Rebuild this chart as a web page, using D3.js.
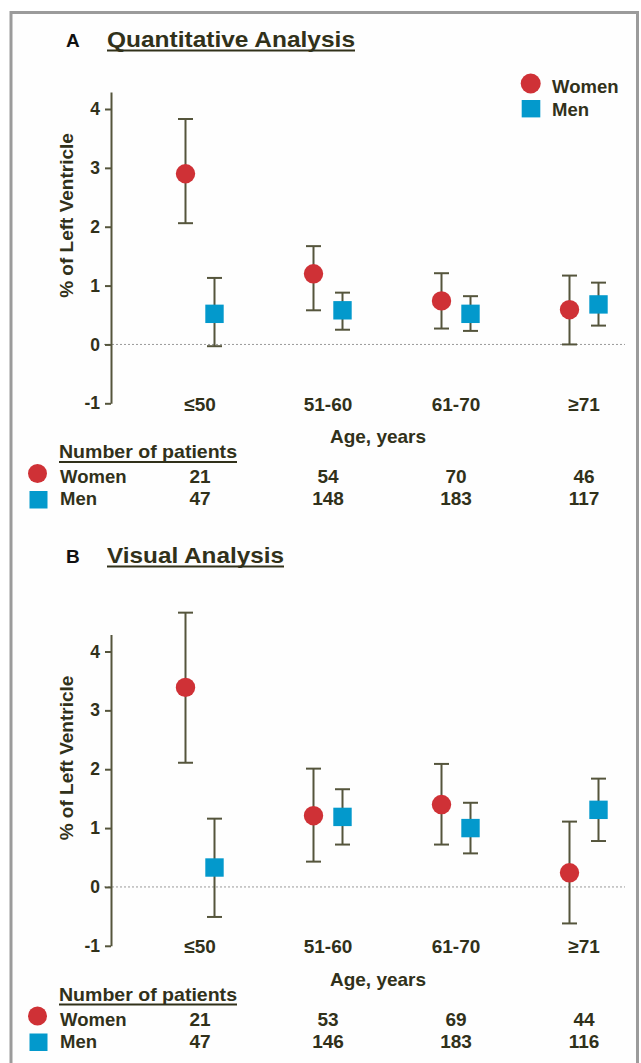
<!DOCTYPE html>
<html>
<head>
<meta charset="utf-8">
<script src="https://cdn.jsdelivr.net/npm/d3@7/dist/d3.min.js"></script>
<style>
  html, body { margin: 0; padding: 0; background: #ffffff; }
  svg { display: block; }
  text { font-family: "Liberation Sans", Arial, sans-serif; font-weight: bold; }
</style>
</head>
<body>
<svg id="chart" width="641" height="1063"></svg>
<script>
// ---------- DATA ----------
const categories = ["≤50", "51-60", "61-70", "≥71"];
const yTicks = [-1, 0, 1, 2, 3, 4];

// Panel A: Quantitative Analysis
const quantWomenMean = [2.90, 1.20, 0.74, 0.59];
const quantWomenLow  = [2.06, 0.58, 0.27, 0.00];
const quantWomenHigh = [3.83, 1.67, 1.21, 1.17];
const quantMenMean   = [0.52, 0.58, 0.52, 0.68];
const quantMenLow    = [-0.03, 0.25, 0.23, 0.32];
const quantMenHigh   = [1.13, 0.88, 0.82, 1.05];
const quantWomenN    = [21, 54, 70, 46];
const quantMenN      = [47, 148, 183, 117];

// Panel B: Visual Analysis
const visWomenMean = [3.39, 1.21, 1.40, 0.24];
const visWomenLow  = [2.11, 0.43, 0.72, -0.62];
const visWomenHigh = [4.66, 2.01, 2.09, 1.11];
const visMenMean   = [0.33, 1.19, 1.00, 1.31];
const visMenLow    = [-0.51, 0.72, 0.57, 0.78];
const visMenHigh   = [1.16, 1.66, 1.43, 1.84];
const visWomenN    = [21, 53, 69, 44];
const visMenN      = [47, 146, 183, 116];

// ---------- STYLE ----------
const TEXT = "#31311a";
const AXIS = "#55553c";
const RED = "#cf3136";
const BLUE = "#0399cc";

const svg = d3.select("#chart");

// frame
svg.append("rect")
  .attr("x", 11).attr("y", 12.5)
  .attr("width", 626.5).attr("height", 1070)
  .attr("fill", "#fefefe")
  .attr("stroke", "#9b9b9b").attr("stroke-width", 3);

const x = d3.scalePoint().domain(categories).range([200, 584]);
const OFF = 14.5;

function panel(opts) {
  const dy = opts.dy;       // vertical shift of plot area
  const ty = opts.titleY;   // title baseline
  const g = svg.append("g");

  // titles
  g.append("text").attr("x", 66).attr("y", ty).style("font-size", "19px")
    .attr("fill", "#111").text(opts.letter);
  const title = g.append("text").attr("x", 107).attr("y", ty).style("font-size", "22px")
    .attr("fill", TEXT).text(opts.title);
  title.attr("textLength", opts.titleLen).attr("lengthAdjust", "spacingAndGlyphs");
  g.append("line").attr("x1", 107).attr("x2", 107 + opts.titleLen)
    .attr("y1", ty + 3.5).attr("y2", ty + 3.5)
    .attr("stroke", TEXT).attr("stroke-width", 1.8);

  const y = d3.scaleLinear().domain([-1, 4]).range([403.3 + dy, 109 + dy]);

  // zero reference line
  g.append("line")
    .attr("x1", 104).attr("x2", 625)
    .attr("y1", y(0)).attr("y2", y(0))
    .attr("stroke", "#9a9a9a").attr("stroke-width", 1)
    .attr("stroke-dasharray", "2,2");

  // y axis
  const yAxisScale = y.copy().domain([-1, 4.29]).range([y(-1), y(4.29)]);
  const axis = d3.axisLeft(yAxisScale).tickValues(yTicks).tickSize(6).tickSizeOuter(0).tickPadding(5)
    .tickFormat(d => String(d));
  const ag = g.append("g").attr("transform", "translate(111,0)").call(axis);
  ag.select(".domain").attr("stroke", AXIS).attr("stroke-width", 2);
  ag.selectAll(".tick line").attr("stroke", AXIS).attr("stroke-width", 2);
  ag.selectAll(".tick text").attr("fill", TEXT).style("font-size", "17.5px");

  // y title
  g.append("text")
    .attr("transform", `translate(72.5,${215.5 + dy}) rotate(-90)`)
    .attr("text-anchor", "middle").style("font-size", "19px").attr("fill", TEXT)
    .text("% of Left Ventricle");

  // category labels
  g.selectAll(".cat").data(categories).enter().append("text")
    .attr("x", d => x(d)).attr("y", 410.5 + dy)
    .attr("text-anchor", "middle").style("font-size", "19px").attr("fill", TEXT)
    .text(d => d);

  g.append("text").attr("x", 378).attr("y", 443 + dy)
    .attr("text-anchor", "middle").style("font-size", "19px").attr("fill", TEXT)
    .text("Age, years");

  // series
  const series = [
    { mean: opts.wMean, low: opts.wLow, high: opts.wHigh, off: -OFF, shape: "circle" },
    { mean: opts.mMean, low: opts.mLow, high: opts.mHigh, off: OFF, shape: "square" }
  ];
  series.forEach(s => {
    const data = categories.map((c, i) => ({ c, m: s.mean[i], lo: s.low[i], hi: s.high[i] }));
    const eb = g.append("g").attr("stroke", AXIS).attr("stroke-width", 2);
    eb.selectAll(".v").data(data).enter().append("line")
      .attr("x1", d => x(d.c) + s.off).attr("x2", d => x(d.c) + s.off)
      .attr("y1", d => y(d.lo)).attr("y2", d => y(d.hi));
    eb.selectAll(".t").data(data).enter().append("line")
      .attr("x1", d => x(d.c) + s.off - 7.5).attr("x2", d => x(d.c) + s.off + 7.5)
      .attr("y1", d => y(d.hi)).attr("y2", d => y(d.hi));
    eb.selectAll(".b").data(data).enter().append("line")
      .attr("x1", d => x(d.c) + s.off - 7.5).attr("x2", d => x(d.c) + s.off + 7.5)
      .attr("y1", d => y(d.lo)).attr("y2", d => y(d.lo));
    s.data = data;
  });
  series.forEach(s => {
    if (s.shape === "circle") {
      g.selectAll(null).data(s.data).enter().append("circle")
        .attr("cx", d => x(d.c) + s.off).attr("cy", d => y(d.m)).attr("r", 9.7)
        .attr("fill", RED);
    } else {
      g.selectAll(null).data(s.data).enter().append("rect")
        .attr("x", d => x(d.c) + s.off - 9.2).attr("y", d => y(d.m) - 9.2)
        .attr("width", 18.4).attr("height", 18.4)
        .attr("fill", BLUE);
    }
  });

  // patients table
  const tb = 458 + dy;
  const npt = g.append("text").attr("x", 59).attr("y", tb).style("font-size", "18.5px").attr("fill", TEXT)
    .text("Number of patients");
  npt.attr("textLength", 178).attr("lengthAdjust", "spacingAndGlyphs");
  g.append("line").attr("x1", 59).attr("x2", 237).attr("y1", tb + 4).attr("y2", tb + 4)
    .attr("stroke", TEXT).attr("stroke-width", 1.8);

  g.append("circle").attr("cx", 37.5).attr("cy", 473.5 + dy).attr("r", 9.5).attr("fill", RED);
  g.append("rect").attr("x", 29.5).attr("y", 491 + dy).attr("width", 18).attr("height", 17.5).attr("fill", BLUE);
  g.append("text").attr("x", 60).attr("y", 483 + dy).style("font-size", "18.5px").attr("fill", TEXT).text("Women");
  g.append("text").attr("x", 60).attr("y", 505 + dy).style("font-size", "18.5px").attr("fill", TEXT).text("Men");

  g.selectAll(".nw").data(categories.map((c, i) => ({ c, n: opts.wN[i] }))).enter().append("text")
    .attr("x", d => x(d.c)).attr("y", 483 + dy).attr("text-anchor", "middle")
    .style("font-size", "19px").attr("fill", TEXT).text(d => d.n);
  g.selectAll(".nm").data(categories.map((c, i) => ({ c, n: opts.mN[i] }))).enter().append("text")
    .attr("x", d => x(d.c)).attr("y", 505 + dy).attr("text-anchor", "middle")
    .style("font-size", "19px").attr("fill", TEXT).text(d => d.n);

  return g;
}

const gA = panel({
  dy: 0, titleY: 47, letter: "A", title: "Quantitative Analysis", titleLen: 248,
  wMean: quantWomenMean, wLow: quantWomenLow, wHigh: quantWomenHigh,
  mMean: quantMenMean, mLow: quantMenLow, mHigh: quantMenHigh,
  wN: quantWomenN, mN: quantMenN
});

// legend (panel A only)
gA.append("circle").attr("cx", 530.7).attr("cy", 83.5).attr("r", 10).attr("fill", RED);
gA.append("rect").attr("x", 521.7).attr("y", 100).attr("width", 18.6).attr("height", 17.4).attr("fill", BLUE);
gA.append("text").attr("x", 552).attr("y", 92.5).style("font-size", "18.5px").attr("fill", TEXT).text("Women");
gA.append("text").attr("x", 552).attr("y", 115.5).style("font-size", "18.5px").attr("fill", TEXT).text("Men");

panel({
  dy: 542.5, titleY: 563, letter: "B", title: "Visual Analysis", titleLen: 177,
  wMean: visWomenMean, wLow: visWomenLow, wHigh: visWomenHigh,
  mMean: visMenMean, mLow: visMenLow, mHigh: visMenHigh,
  wN: visWomenN, mN: visMenN
});
</script>
</body>
</html>
